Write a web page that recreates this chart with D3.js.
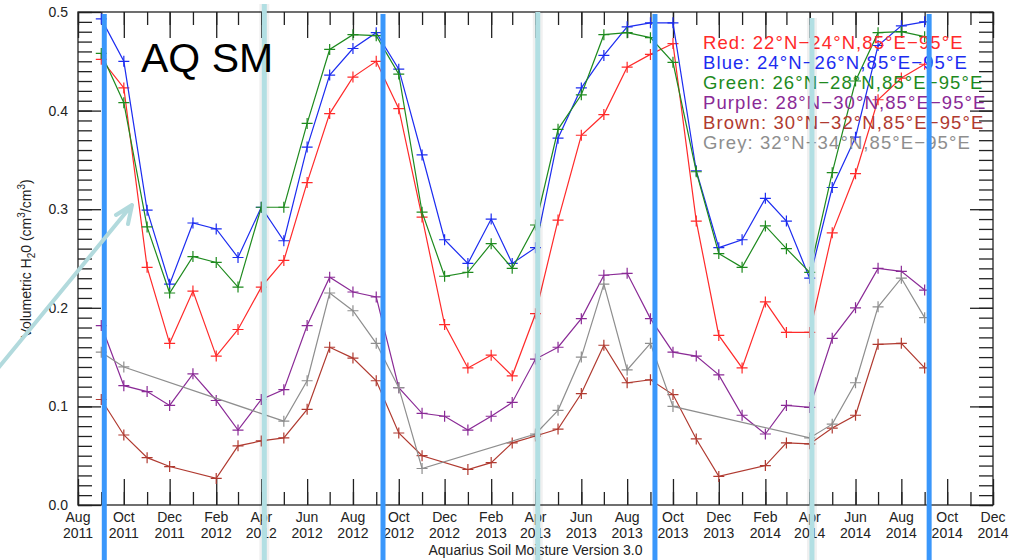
<!DOCTYPE html>
<html>
<head>
<meta charset="utf-8">
<script src="https://d3js.org/d3.v7.min.js"></script>
<style>
  body { margin: 0; background: #fff; }
  svg { font-family: "Liberation Sans", Arial, Helvetica, sans-serif; }
</style>
</head>
<body>
<svg width="1020" height="560"></svg>
<script>
// monthly values, Sep 2011 .. Sep 2014 (null = no retrieval that month)
var dates = d3.timeMonth.range(new Date(2011, 8, 1), new Date(2014, 9, 1));

var red = [0.452, 0.423, 0.241, 0.164, 0.217, 0.151, 0.178, 0.221, 0.248, 0.327,
  0.397, 0.434, 0.450, 0.402, 0.292, 0.183, 0.139, 0.152, 0.131, 0.194,
  0.289, 0.375, 0.396, 0.444, 0.457, 0.468, 0.288, 0.172, 0.139, 0.206,
  0.175, 0.175, 0.276, 0.336, 0.411, 0.433, 0.447];
var blue = [0.493, 0.450, 0.299, 0.224, 0.286, 0.280, 0.251, 0.302, 0.268, 0.363,
  0.436, 0.463, 0.479, 0.442, 0.355, 0.269, 0.245, 0.290, 0.245, 0.261,
  0.372, 0.423, 0.456, 0.485, 0.489, 0.489, 0.339, 0.261, 0.269, 0.311,
  0.288, 0.230, 0.322, 0.373, 0.466, 0.486, 0.490];
var green = [0.458, 0.408, 0.282, 0.215, 0.252, 0.246, 0.221, 0.302, 0.302, 0.387,
  0.462, 0.477, 0.476, 0.437, 0.297, 0.232, 0.236, 0.265, 0.240, 0.284,
  0.381, 0.416, 0.477, 0.479, 0.474, 0.449, 0.338, 0.255, 0.241, 0.283,
  0.260, 0.236, 0.337, 0.430, 0.479, 0.480, 0.475];
var purple = [0.182, 0.121, 0.115, 0.101, 0.133, 0.106, 0.076, 0.107, 0.117, 0.182,
  0.231, 0.216, 0.211, 0.119, 0.093, 0.090, 0.076, 0.090, 0.104, 0.148,
  0.160, 0.189, 0.233, 0.235, 0.189, 0.155, 0.151, 0.132, 0.091, 0.072,
  0.101, 0.099, 0.169, 0.200, 0.240, 0.237, 0.218];
var brown = [0.107, 0.071, 0.048, 0.039, null, 0.027, 0.060, 0.065, 0.068, 0.097,
  0.160, 0.149, 0.126, 0.073, 0.050, null, 0.036, 0.043, 0.063, 0.070,
  0.077, 0.113, 0.162, 0.124, 0.127, 0.112, 0.067, 0.029, null, 0.040,
  0.063, 0.062, 0.078, 0.091, 0.163, 0.164, 0.139];
var grey = [0.155, 0.140, null, null, null, null, null, null, 0.085, 0.126,
  0.215, 0.197, 0.164, 0.119, 0.037, null, null, null, null, 0.072,
  0.096, 0.150, 0.224, 0.137, 0.164, 0.100, null, null, null, null,
  null, 0.068, 0.082, 0.124, 0.201, 0.230, 0.190];

var seriesNames = ['Red', 'Blue', 'Green', 'Purple', 'Brown', 'Grey'];
var seriesValues = [red, blue, green, purple, brown, grey];
var seriesColors = ['#ff2a2a', '#1c2cf0', '#1e8a1e', '#8a2a96', '#b03a30', '#8e8e8e'];
var legendLabels = [
  'Red: 22°N\u221224°N,85°E\u221295°E',
  'Blue: 24°N\u221226°N,85°E\u221295°E',
  'Green: 26°N\u221228°N,85°E\u221295°E',
  'Purple: 28°N\u221230°N,85°E\u221295°E',
  'Brown: 30°N\u221232°N,85°E\u221295°E',
  'Grey: 32°N\u221234°N,85°E\u221295°E'
];
var yTicks = [0.0, 0.1, 0.2, 0.3, 0.4, 0.5];

// overlay marks added on the slide (dark blue and pale blue bars)
var darkBars = [new Date(2011, 8, 5), new Date(2012, 8, 10), new Date(2013, 8, 7), new Date(2014, 8, 7)];
var paleBars = [new Date(2012, 3, 5), new Date(2013, 3, 4), new Date(2014, 3, 4)];

var svg = d3.select('svg');
var plotL = 78, plotR = 993, plotT = 12, plotB = 505;

var x = d3.scaleTime()
  .domain([new Date(2011, 7, 1), new Date(2014, 11, 1)])
  .range([plotL, plotR]);
var y = d3.scaleLinear()
  .domain([0, 0.5])
  .range([plotB, plotT]);

var majorX = d3.timeMonth.range(new Date(2011, 7, 1), new Date(2014, 11, 2), 2);
var minorX = d3.timeMonth.range(new Date(2011, 7, 1), new Date(2014, 11, 2));
var minorY = d3.range(0, 51).map(function(d) { return d / 100; });

function addAxis(axis, tx, ty) {
  var g = svg.append('g')
    .attr('transform', 'translate(' + tx + ',' + ty + ')')
    .call(axis);
  g.select('.domain').remove();
  g.selectAll('line').attr('stroke', '#222').attr('stroke-width', 1.3);
  g.selectAll('text').remove();
  return g;
}

// ticks point inward on all four sides
addAxis(d3.axisBottom(x).tickValues(minorX).tickSize(-13), 0, plotB);
addAxis(d3.axisBottom(x).tickValues(majorX).tickSize(-26), 0, plotB);
addAxis(d3.axisTop(x).tickValues(minorX).tickSize(-13), 0, plotT);
addAxis(d3.axisTop(x).tickValues(majorX).tickSize(-26), 0, plotT);
addAxis(d3.axisLeft(y).tickValues(minorY).tickSize(-14), plotL, 0);
addAxis(d3.axisLeft(y).tickValues(yTicks).tickSize(-23), plotL, 0);
addAxis(d3.axisRight(y).tickValues(minorY).tickSize(-14), plotR, 0);
addAxis(d3.axisRight(y).tickValues(yTicks).tickSize(-23), plotR, 0);

svg.append('rect')
  .attr('x', plotL).attr('y', plotT)
  .attr('width', plotR - plotL).attr('height', plotB - plotT)
  .attr('fill', 'none').attr('stroke', '#222').attr('stroke-width', 1.3);

// tick labels
svg.selectAll('text.ylab')
  .data(yTicks)
  .enter()
  .append('text')
  .classed('ylab', true)
  .attr('x', plotL - 10)
  .attr('y', function(d) { return y(d) + 5; })
  .attr('text-anchor', 'end')
  .attr('font-size', 14)
  .attr('fill', '#222')
  .text(function(d) { return d3.format('.1f')(d); });

var fmtMonth = d3.timeFormat('%b'), fmtYear = d3.timeFormat('%Y');
var xl = svg.selectAll('text.xlab')
  .data(majorX)
  .enter()
  .append('text')
  .classed('xlab', true)
  .attr('text-anchor', 'middle')
  .attr('font-size', 14)
  .attr('fill', '#222');
xl.append('tspan')
  .attr('x', function(d) { return x(d); })
  .attr('y', 522)
  .text(fmtMonth);
xl.append('tspan')
  .attr('x', function(d) { return x(d); })
  .attr('y', 538)
  .text(fmtYear);

svg.append('text')
  .attr('x', (plotL + plotR) / 2)
  .attr('y', 555)
  .attr('text-anchor', 'middle')
  .attr('font-size', 14)
  .attr('fill', '#222')
  .text('Aquarius Soil Moisture Version 3.0');

var yt = svg.append('text')
  .attr('transform', 'translate(31,' + ((plotT + plotB) / 2) + ') rotate(-90)')
  .attr('text-anchor', 'middle')
  .attr('font-size', 14)
  .attr('fill', '#222');
yt.append('tspan').text('Volumetric H');
yt.append('tspan').attr('font-size', 10).attr('dy', 4).text('2');
yt.append('tspan').attr('dy', -4).text('0 (cm');
yt.append('tspan').attr('font-size', 10).attr('dy', -6).text('3');
yt.append('tspan').attr('dy', 6).text('/cm');
yt.append('tspan').attr('font-size', 10).attr('dy', -6).text('3');
yt.append('tspan').attr('dy', 6).text(')');

// series
var line = d3.line()
  .x(function(d) { return x(d.date); })
  .y(function(d) { return y(d.value); });

seriesValues.forEach(function(vals, k) {
  var pts = vals.map(function(v, i) { return { date: dates[i], value: v }; })
    .filter(function(d) { return d.value !== null; });
  var g = svg.append('g').attr('class', 'series-' + seriesNames[k]);
  g.append('path')
    .datum(pts)
    .attr('d', line)
    .attr('fill', 'none')
    .attr('stroke', seriesColors[k])
    .attr('stroke-width', 1.2);
  g.selectAll('path.mark')
    .data(pts)
    .enter()
    .append('path')
    .classed('mark', true)
    .attr('d', function(d) {
      var px = x(d.date), py = y(d.value);
      return 'M' + (px - 5.5) + ',' + py + 'h11M' + px + ',' + (py - 5.5) + 'v11';
    })
    .attr('stroke', seriesColors[k])
    .attr('stroke-width', 1.2);
});

// legend
svg.selectAll('text.legend')
  .data(legendLabels)
  .enter()
  .append('text')
  .classed('legend', true)
  .attr('x', 703)
  .attr('y', function(d, i) { return 49 + i * 20; })
  .attr('font-size', 18.5)
  .attr('letter-spacing', 1.1)
  .attr('fill', function(d, i) { return seriesColors[i]; })
  .text(function(d) { return d; });

// slide annotations on top
var paleTops = [4, 12, 18];
paleBars.forEach(function(d, i) {
  svg.append('line')
    .attr('x1', x(d)).attr('x2', x(d))
    .attr('y1', paleTops[i]).attr('y2', 560)
    .attr('stroke', 'rgba(0,0,0,0.06)').attr('stroke-width', 10);
  svg.append('line')
    .attr('x1', x(d)).attr('x2', x(d))
    .attr('y1', paleTops[i]).attr('y2', 560)
    .attr('stroke', '#b2dfe3').attr('stroke-width', 5);
});
darkBars.forEach(function(d) {
  svg.append('line')
    .attr('x1', x(d)).attr('x2', x(d))
    .attr('y1', 14).attr('y2', 560)
    .attr('stroke', '#3a97fb').attr('stroke-width', 5);
});

svg.append('path')
  .attr('d', 'M-10,378L132,205M116,215L132,205L128,224')
  .attr('fill', 'none')
  .attr('stroke', '#b2dadd')
  .attr('stroke-width', 4)
  .attr('stroke-linecap', 'round')
  .attr('stroke-linejoin', 'round');

svg.append('text')
  .attr('x', 141)
  .attr('y', 72)
  .attr('font-size', 41)
  .attr('fill', '#000')
  .text('AQ SM');
</script>
</body>
</html>
